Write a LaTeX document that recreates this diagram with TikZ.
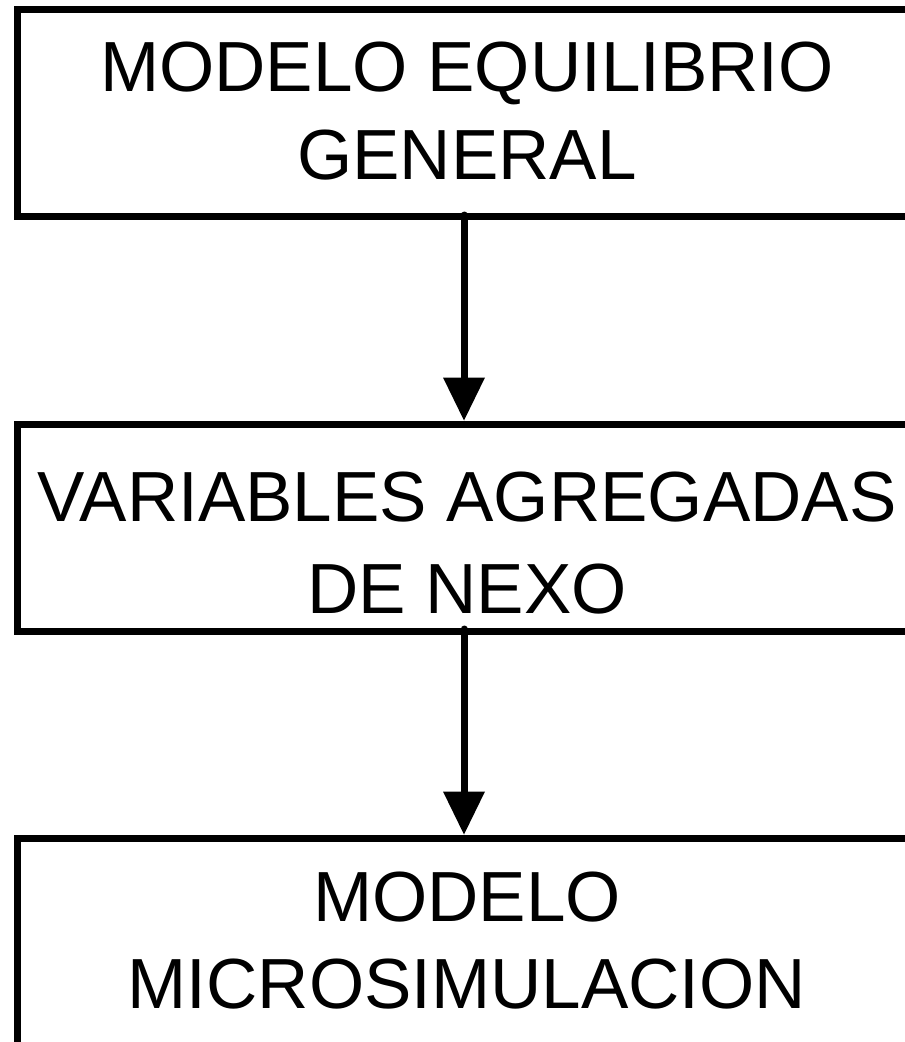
\documentclass[tikz,border=0pt]{standalone}
\usepackage{fontspec}
\setmainfont{Liberation Sans}
\usetikzlibrary{arrows.meta}
\begin{document}
\begin{tikzpicture}[x=1pt,y=-1pt,
  boxline/.style={line width=7pt,line join=miter,line cap=butt},
  flow/.style={line width=7pt,line cap=round,-{Triangle[width=42pt,length=43pt,line width=0pt]}},
  label/.style={anchor=base,inner sep=0pt,font=\fontsize{71}{87.5}\selectfont}]
\useasboundingbox (0,0) rectangle (905,1042);
\clip (0,0) rectangle (905,1042);
% boxes (cut off at the right edge)
\draw[boxline] (960,9) -- (17.5,9) -- (17.5,216.5) -- (960,216.5);
\draw[boxline] (960,424) -- (17.5,424) -- (17.5,631) -- (960,631);
\draw[boxline] (960,838) -- (17.5,838) -- (17.5,1060);
% anchor points
\coordinate (b1s) at (464,215);
\coordinate (b2n) at (464,420.5);
\coordinate (b2s) at (464,629);
\coordinate (b3n) at (464,834.5);
% texts
\node[label] (t1a) at (467,91.5) {MODELO EQUILIBRIO};
\node[label] (t1b) at (467,179) {GENERAL};
\node[label] (t2a) at (467,521.5) {VARIABLES AGREGADAS};
\node[label] (t2b) at (467,613) {DE NEXO};
\node[label] (t3a) at (467,921) {MODELO};
\node[label] (t3b) at (467,1008) {MICROSIMULACION};
% connectors
\draw[flow] (b1s) -- (b2n);
\draw[flow] (b2s) -- (b3n);
\end{tikzpicture}
\end{document}
